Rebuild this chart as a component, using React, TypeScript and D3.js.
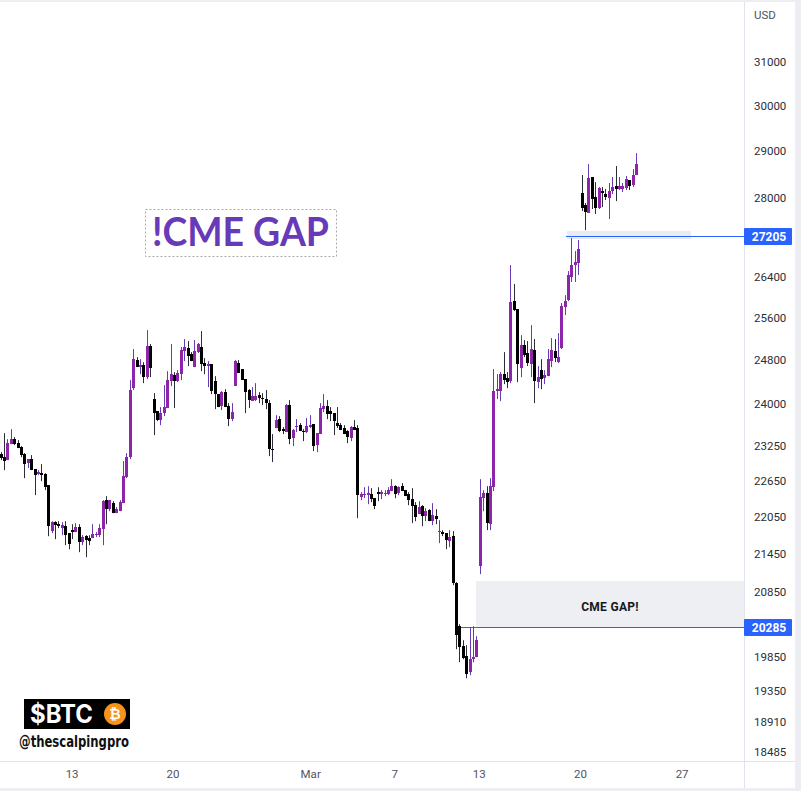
import React, { useRef, useEffect } from 'react';
import * as d3 from 'd3';

// BTCUSD candles, oldest first
const opens = [23103,23056,23004,23281,23369,23299,23229,23108,22947,23021,22849,22763,22780,22763,22576,21812,21959,21926,21861,21893,21779,21828,21795,21877,21633,21730,21698,21698,21746,21746,21844,22324,22174,22274,22107,22140,22274,22712,23056,24279,24794,24664,24701,24480,25056,24080,23864,23704,23828,23918,24407,24517,24407,24535,24962,25018,24906,24664,24943,25037,24738,24683,24720,24407,24170,23954,24207,23954,23722,24316,24738,24627,24443,24243,24044,24062,24152,24098,24080,24008,23194,23562,23722,23545,23492,23972,23386,23580,23615,23510,23492,23580,23633,23264,23457,23900,23954,23864,23828,23651,23615,23562,23510,23386,23580,23562,22374,22408,22408,22425,22357,22458,22425,22425,22425,22475,22559,22442,22559,22492,22425,22341,22240,22090,22224,22058,22157,21975,22058,21795,21795,21779,21649,21730,20978,20312,20010,19860,19624,19816,19846,21246,22357,22442,21926,22542,24225,24225,24535,24461,24407,25915,25760,24646,25075,24925,24720,24981,24388,24609,24461,24498,24775,24962,24757,25018,25799,25935,26386,26624,26664,28101,27849,27683,28440,28016,27786,28143,28080,27995,28143,28248,28185,28185,28206,28376,28269,28482];
const highs = [23142,23474,23369,23545,23404,23351,23246,23125,23021,23090,22849,22832,22935,22780,22576,21975,21975,21975,21959,21975,21779,21926,21943,21926,21746,21746,21746,21926,21795,21926,22324,22391,22324,22307,22207,22324,22987,23125,24425,25000,24850,24812,24757,25358,25094,24188,23864,23936,24334,24590,25094,24572,24609,25037,25188,25150,24943,25169,25113,25339,24831,24775,24720,24498,24170,24225,24261,24008,24008,24794,24794,24627,24443,24261,24297,24370,24207,24188,24243,24062,23457,23793,23775,23580,23990,24062,23545,23722,23651,23545,23740,23793,23633,23474,24008,24170,24062,23936,23828,23936,23651,23615,23527,23598,23704,23615,22458,22542,22559,22526,22357,22542,22492,22492,22542,22678,22576,22559,22610,22492,22458,22526,22291,22307,22240,22190,22174,22274,22174,21992,21828,21779,21828,21812,20994,20342,20100,20025,20297,20312,20160,22678,22492,22559,22695,24627,24535,24572,24943,24572,26624,26248,25760,25263,25169,25150,25453,25188,24683,24812,24609,25000,25207,25188,25301,25876,26032,26505,27169,26905,27128,28482,27890,28718,28440,28333,28227,28227,28185,28312,28440,28675,28440,28312,28461,28376,28610,28955];
const lows = [23004,22832,23004,23281,23264,23212,23056,22695,22866,22832,22408,22746,22644,22492,21730,21779,21681,21861,21746,21584,21519,21681,21795,21471,21584,21390,21584,21698,21714,21714,21584,21926,22140,22107,22107,22140,22274,22695,23021,24243,24664,24535,24370,24443,24480,23439,23686,23615,23775,23918,24316,23918,24388,24425,24775,24683,24775,24664,24925,24590,24535,24297,24170,23900,23936,23882,23936,23598,23686,24316,24553,24425,23828,23918,24044,24044,24008,23972,23900,23073,22970,23562,23492,23457,23492,23281,23246,23492,23510,23334,23474,23562,23160,23142,23457,23846,23722,23686,23439,23562,23527,23457,23299,23334,23527,22025,22324,22357,22257,22291,22174,22307,22341,22391,22408,22475,22357,22408,22475,22391,22240,21943,21975,22090,21893,21975,21975,21910,21926,21617,21730,21519,21552,20946,19965,19771,19816,19535,19580,19771,19846,21120,22140,21828,21828,22475,24080,24044,24352,24279,24370,25722,24388,24480,24850,24683,24480,24008,24279,24261,24352,24498,24664,24757,24738,25000,25645,25915,26288,26288,26426,27724,27332,27683,27766,27662,27766,27807,27953,27559,28080,27932,28164,28122,28164,28164,28227,28482];
const closes = [23039,22987,23299,23369,23281,23212,23090,22935,23021,22832,22746,22803,22746,22542,21893,21959,21910,21893,21910,21746,21600,21795,21877,21633,21714,21665,21649,21763,21763,21861,22307,22174,22324,22107,22174,22291,22729,23056,24243,24812,24664,24701,24480,25056,24646,23828,23704,23828,23936,24425,24535,24407,24553,24981,25037,24868,24775,24962,25094,24720,24683,24720,24225,24170,23936,24207,23936,23722,23846,24775,24553,24425,24207,24062,24134,24134,24098,24080,24008,23194,23177,23704,23510,23510,23972,23369,23527,23598,23510,23492,23598,23615,23246,23474,23918,23954,23811,23811,23686,23598,23527,23457,23404,23580,23527,22408,22425,22425,22442,22341,22224,22425,22458,22442,22492,22559,22425,22542,22475,22391,22324,22224,22041,22207,22058,22140,21975,22074,22008,21812,21763,21665,21714,20978,20175,19995,19831,19594,19816,19846,20100,22374,22442,21943,22559,24225,24261,24535,24425,24388,25896,25741,24720,25075,24887,24738,25000,24407,24480,24443,24517,24812,24981,24831,24850,25818,25915,26426,26624,26684,26945,27786,27704,28418,27974,27786,28206,28101,28016,28143,28227,28185,28248,28248,28397,28248,28482,28718];

const priceTicks = [31000,30000,29000,28000,26400,25600,24800,24000,23250,22650,22050,21450,20850,20350,19850,19350,18910,18485];
const dateTicks = [20.9,50.6,91.1,115.8,140.7,170.5,200.4];
const dateLabels = ['13','20','Mar','7','13','20','27'];
const lastPrices = [27205,20285];

const UP = '#8e24aa';
const UP_WICK = '#673ab7';
const DOWN = '#000000';
const DOWN_WICK = '#2a2e39';
const BLUE = '#2962ff';
const AXIS_FONT = 'Roboto, sans-serif';

const App: React.FC = () => {
    const svgRef = useRef<SVGSVGElement | null>(null);

    useEffect(() => {
        if (!svgRef.current) return;

        const width = 801;
        const height = 791;
        const axisX = 744.5;
        const axisY = 761.5;
        const edgeX = 795;

        const candles = opens.map((o, i) => ({ i, o, h: highs[i], l: lows[i], c: closes[i] }));

        const x = d3.scaleLinear().domain([0, 220]).range([0.6, 748.2]);
        const y = d3.scaleLog().domain([18485, 31000]).range([752, 62]);
        const snapY = (p: number) => Math.round(y(p) - 0.6);

        const svg = d3.select(svgRef.current);
        svg.selectAll('*').remove();

        // frame
        svg.append('rect').attr('width', width).attr('height', height).attr('fill', '#ffffff');
        svg.append('rect').attr('width', width).attr('height', 2).attr('fill', '#eceef3');
        svg.append('rect').attr('y', 788).attr('width', width).attr('height', 3).attr('fill', '#eceef3');
        svg.append('rect').attr('x', edgeX).attr('width', width - edgeX).attr('height', height).attr('fill', '#eceef3');

        // gap zones
        svg.append('rect')
            .attr('x', 476)
            .attr('width', axisX - 476)
            .attr('y', 581)
            .attr('height', snapY(20285) - 581)
            .attr('fill', '#eeeff2');
        svg.append('rect')
            .attr('x', 567)
            .attr('width', 124)
            .attr('y', 231)
            .attr('height', 8)
            .attr('fill', '#e9ebf4');

        svg.append('text')
            .attr('x', 610)
            .attr('y', 611)
            .attr('text-anchor', 'middle')
            .attr('font-family', 'Roboto, sans-serif')
            .attr('font-weight', 700)
            .attr('font-size', 12)
            .attr('letter-spacing', 0.3)
            .attr('fill', '#131722')
            .text('CME GAP!');

        // horizontal price lines
        svg.append('line')
            .attr('x1', 566)
            .attr('x2', axisX)
            .attr('y1', snapY(27205) + 0.5)
            .attr('y2', snapY(27205) + 0.5)
            .attr('stroke', BLUE);
        svg.append('line')
            .attr('x1', 461)
            .attr('x2', axisX)
            .attr('y1', snapY(20285) + 0.5)
            .attr('y2', snapY(20285) + 0.5)
            .attr('stroke', '#3b5fd9');

        // candles
        const g = svg.append('g');
        g.selectAll('line')
            .data(candles)
            .join('line')
            .attr('x1', d => Math.round(x(d.i)) + 0.5)
            .attr('x2', d => Math.round(x(d.i)) + 0.5)
            .attr('y1', d => y(d.h))
            .attr('y2', d => y(d.l))
            .attr('stroke', d => (d.c >= d.o ? UP_WICK : DOWN_WICK))
            .attr('stroke-width', 1);
        g.selectAll('rect')
            .data(candles)
            .join('rect')
            .attr('x', d => Math.round(x(d.i)) - 1)
            .attr('width', 3)
            .attr('y', d => Math.round(y(Math.max(d.o, d.c))))
            .attr('height', d => Math.max(1, Math.round(Math.abs(y(d.o) - y(d.c)))))
            .attr('fill', d => (d.c >= d.o ? UP : DOWN));

        // axes
        const right = svg.append('g')
            .attr('transform', `translate(${axisX},0)`)
            .call(
                d3.axisRight(y)
                    .tickValues(priceTicks)
                    .tickSize(0)
                    .tickPadding(9.5)
                    .tickFormat(d => String(d))
            );
        right.select('.domain').remove();
        right.selectAll('text').attr('font-family', AXIS_FONT).attr('font-size', 11.5).attr('fill', '#2a2e39');
        svg.append('line')
            .attr('x1', axisX)
            .attr('x2', axisX)
            .attr('y1', 2)
            .attr('y2', 788)
            .attr('stroke', '#e0e3eb');

        const bottom = svg.append('g')
            .attr('transform', `translate(0,${axisY + 1})`)
            .call(
                d3.axisBottom(x)
                    .tickValues(dateTicks)
                    .tickSize(0)
                    .tickPadding(7)
                    .tickFormat((_, i) => dateLabels[i])
            );
        bottom.select('.domain').remove();
        bottom.selectAll('text').attr('font-family', AXIS_FONT).attr('font-size', 11.5).attr('fill', '#50535e');
        svg.append('line')
            .attr('x1', 0)
            .attr('x2', edgeX)
            .attr('y1', axisY)
            .attr('y2', axisY)
            .attr('stroke', '#e0e3eb');

        svg.append('text')
            .attr('x', 754)
            .attr('y', 19)
            .attr('font-family', AXIS_FONT)
            .attr('font-size', 11.5)
            .attr('fill', '#50535e')
            .text('USD');

        // price labels on the axis
        lastPrices.forEach(p => {
            const py = snapY(p);
            svg.append('rect')
                .attr('x', axisX - 0.5)
                .attr('y', py - 8)
                .attr('width', 48)
                .attr('height', 17)
                .attr('rx', 1)
                .attr('fill', BLUE);
            svg.append('text')
                .attr('x', 769)
                .attr('y', py + 5)
                .attr('text-anchor', 'middle')
                .attr('font-family', AXIS_FONT)
                .attr('font-weight', 700)
                .attr('font-size', 12)
                .attr('fill', '#ffffff')
                .text(String(p));
        });

        // big note
        svg.append('rect')
            .attr('x', 145.5)
            .attr('y', 209.5)
            .attr('width', 191)
            .attr('height', 47)
            .attr('fill', 'none')
            .attr('stroke', '#aaaaaa')
            .attr('stroke-dasharray', '2 2');
        svg.append('text')
            .attr('x', 152)
            .attr('y', 246)
            .attr('font-family', 'Lato, sans-serif')
            .attr('font-weight', 700)
            .attr('font-size', 40)
            .attr('textLength', 177)
            .attr('lengthAdjust', 'spacingAndGlyphs')
            .attr('fill', '#673ab7')
            .text('!CME GAP');

        // watermark
        svg.append('rect').attr('x', 24).attr('y', 699).attr('width', 106).attr('height', 30).attr('fill', '#000000');
        svg.append('text')
            .attr('x', 30)
            .attr('y', 723)
            .attr('font-family', 'Inter, sans-serif')
            .attr('font-weight', 700)
            .attr('font-size', 25)
            .attr('textLength', 63)
            .attr('lengthAdjust', 'spacingAndGlyphs')
            .attr('fill', '#ffffff')
            .text('$BTC');
        svg.append('circle').attr('cx', 115).attr('cy', 714).attr('r', 11).attr('fill', '#f7931a');
        svg.append('text')
            .attr('x', 115)
            .attr('y', 719)
            .attr('text-anchor', 'middle')
            .attr('font-family', '"DejaVu Sans", sans-serif')
            .attr('font-weight', 700)
            .attr('font-size', 14)
            .attr('fill', '#ffffff')
            .text('₿');
        svg.append('text')
            .attr('x', 19)
            .attr('y', 747)
            .attr('font-family', '"DejaVu Sans Condensed", "DejaVu Sans", sans-serif')
            .attr('font-weight', 700)
            .attr('font-size', 16)
            .attr('textLength', 110)
            .attr('lengthAdjust', 'spacingAndGlyphs')
            .attr('fill', '#111111')
            .text('@thescalpingpro');
    }, []);

    return (
        <svg
            ref={svgRef}
            width={801}
            height={791}
            style={{ position: 'absolute', left: 0, top: 0, display: 'block' }}
        />
    );
};

export default App;
